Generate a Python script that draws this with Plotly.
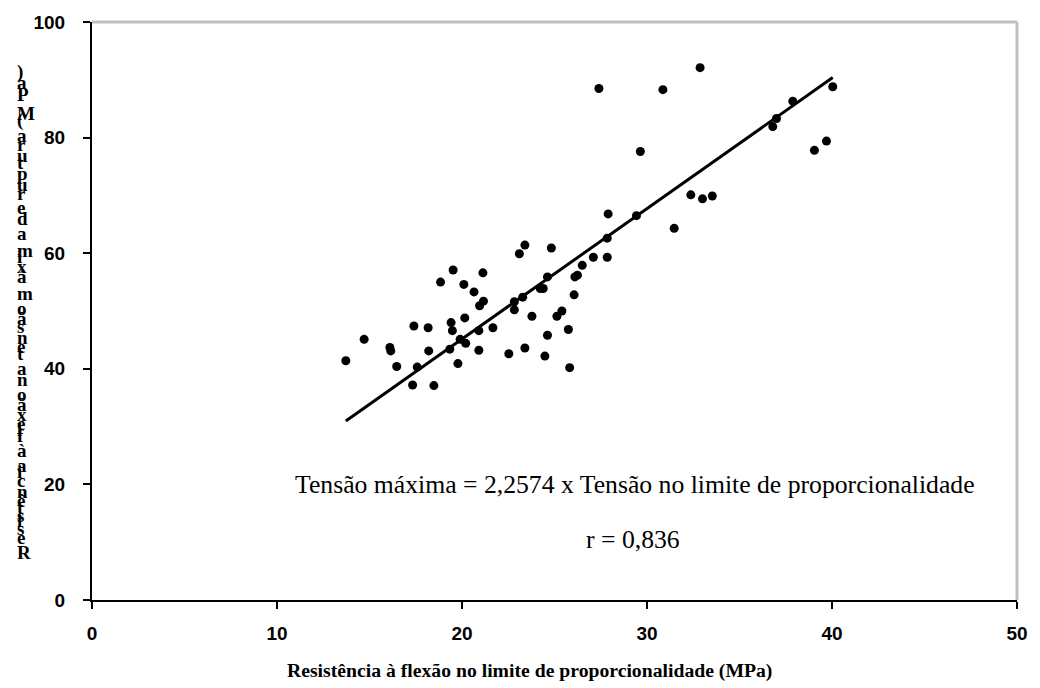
import plotly.graph_objects as go

# ---------------- data ----------------
x_prop = [13.72, 14.71, 16.10, 16.15, 16.47, 17.33, 17.40, 17.58, 18.17, 18.20,
          18.48, 18.84, 19.52, 19.41, 19.48, 19.34, 19.78, 20.10, 20.15, 19.90,
          21.13, 20.65, 21.16, 20.95, 20.91, 21.67, 20.20, 20.91, 22.53, 23.40,
          22.83, 23.28, 22.83, 23.78, 23.10, 23.40, 24.83, 24.62, 24.23, 24.39,
          24.62, 24.48, 25.13, 25.40, 25.75, 25.82, 26.06, 26.10, 26.24, 26.50,
          27.10, 27.40, 30.86, 32.87, 29.64, 27.90, 29.43, 27.85, 27.85, 31.47,
          32.37, 33.00, 33.53, 36.80, 37.00, 37.88, 40.04, 39.05, 39.70]
y_max = [41.4, 45.1, 43.7, 43.1, 40.4, 37.2, 47.4, 40.3, 47.1, 43.1,
         37.1, 55.0, 57.1, 48.0, 46.6, 43.4, 40.9, 54.6, 48.8, 45.1,
         56.6, 53.3, 51.7, 50.9, 46.6, 47.1, 44.4, 43.2, 42.6, 43.6,
         51.6, 52.4, 50.2, 49.1, 59.9, 61.4, 60.9, 55.9, 53.9, 53.9,
         45.8, 42.2, 49.1, 50.0, 46.8, 40.2, 52.8, 55.9, 56.2, 57.9,
         59.3, 88.5, 88.3, 92.1, 77.6, 66.8, 66.5, 62.6, 59.3, 64.3,
         70.1, 69.4, 69.9, 81.9, 83.3, 86.3, 88.8, 77.8, 79.4]
slope = 2.2574
x_ticks = [0, 10, 20, 30, 40, 50]
y_ticks = [0, 20, 40, 60, 80, 100]
x_title = "Resistência à flexão no limite de proporcionalidade (MPa)"
y_title = "Resistência à flexão na tensão máxima de ruptura (MPa)"
eq_text = "Tensão máxima = 2,2574 x Tensão no limite de proporcionalidade"
r_text = "r = 0,836"

# ---------------- layout helpers ----------------
W, H = 1040, 688
L, R, T, B = 92, 18, 20, 88
pw, ph = W - L - R, H - T - B


def paper_x(px):
    return (px - L) / pw


def paper_y(py):
    return (H - B - py) / ph


serif = "Liberation Serif"
sans = "Liberation Sans"

fig = go.Figure()
fig.add_trace(go.Scatter(x=x_prop, y=y_max, mode="markers",
                         marker=dict(color="black", size=9, line=dict(width=0)),
                         showlegend=False))
x_line = [min(x_prop), max(x_prop)]
fig.add_trace(go.Scatter(x=x_line, y=[slope * v for v in x_line], mode="lines",
                         line=dict(color="black", width=3), showlegend=False))

annotations = [
    dict(text=eq_text, x=paper_x(638), y=paper_y(484), xref="paper", yref="paper",
         xanchor="center", yanchor="middle", showarrow=False,
         font=dict(family=serif, size=25.7, color="black")),
    dict(text=r_text, x=paper_x(636), y=paper_y(539), xref="paper", yref="paper",
         xanchor="center", yanchor="middle", showarrow=False,
         font=dict(family=serif, size=25.7, color="black")),
    dict(text=x_title, x=paper_x(532), y=paper_y(671), xref="paper", yref="paper",
         xanchor="center", yanchor="middle", showarrow=False,
         font=dict(family=serif, size=19.7, color="black", weight="bold")),
]

# vertical title: upright glyphs stacked bottom-to-top (as in the source image)
adv_w = {"R": 722, "e": 444, "s": 389, "i": 278, "t": 333, "ê": 444, "n": 556,
         "c": 444, "a": 500, " ": 250, "à": 500, "f": 333, "l": 278, "x": 500,
         "ã": 500, "o": 500, "m": 833, "á": 500, "d": 556, "r": 444, "u": 556,
         "p": 556, "(": 333, "M": 944, "P": 611, ")": 333}
fs_y = 19
step = 20.2 / 1000.0
cum = 0
for ch in y_title:
    if ch != " ":
        baseline = 558 - cum * step
        center = baseline - 0.32 * fs_y
        annotations.append(dict(text=ch, x=paper_x(15), y=paper_y(center),
                                xref="paper", yref="paper", xanchor="left",
                                yanchor="middle", showarrow=False,
                                font=dict(family=serif, size=fs_y, color="black",
                                          weight="bold")))
    cum += adv_w.get(ch, 500)

axis_common = dict(showline=True, linecolor="black", linewidth=2, ticks="outside",
                   ticklen=7, tickwidth=2, tickcolor="black", showgrid=False,
                   zeroline=False,
                   tickfont=dict(family=sans, size=19, color="black", weight="bold"))

fig.update_layout(
    width=W, height=H, margin=dict(l=L, r=R, t=T, b=B),
    paper_bgcolor="white", plot_bgcolor="white",
    xaxis=dict(range=[0, 50], tickvals=x_ticks, ticklabelstandoff=8, **axis_common),
    yaxis=dict(range=[0, 100], tickvals=y_ticks, ticklabelstandoff=14, **axis_common),
    annotations=annotations,
    shapes=[
        dict(type="line", xref="paper", yref="paper", x0=0, x1=1, y0=1, y1=1,
             line=dict(color="#c0c0c0", width=3), layer="above"),
        dict(type="line", xref="paper", yref="paper", x0=1, x1=1, y0=0, y1=1,
             line=dict(color="#c0c0c0", width=3), layer="above"),
    ],
)

fig.write_html("out.html")
